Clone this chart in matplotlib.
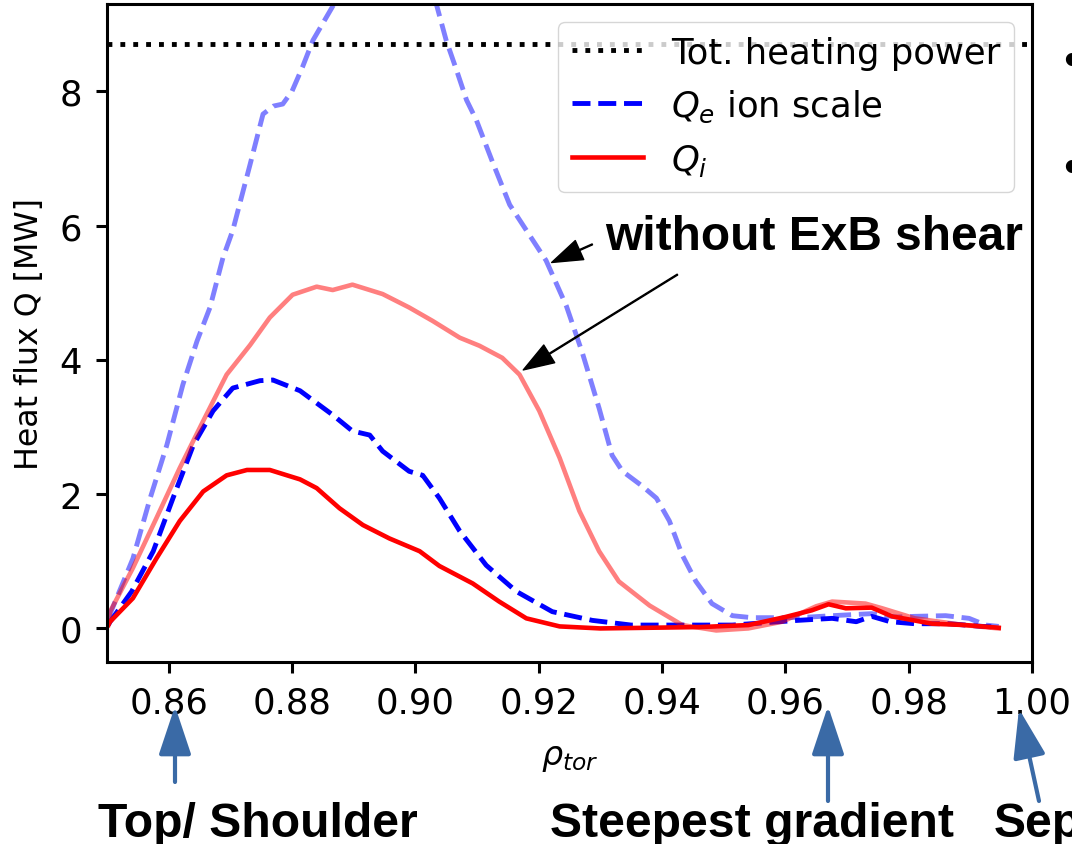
import matplotlib
matplotlib.use('Agg')
import matplotlib.pyplot as plt
from matplotlib.patches import FancyArrowPatch

# ── data ──
tot_power = 8.7

x_qe_noshear = [0.8502, 0.852, 0.8542, 0.857, 0.8597, 0.8623, 0.8646, 0.8667, 0.8688, 0.8704,
                0.8732, 0.8753, 0.8770, 0.8785, 0.880, 0.8817, 0.8834, 0.8872, 0.890, 0.893,
                0.896, 0.899, 0.9015, 0.9034, 0.905, 0.9067, 0.9083, 0.9099, 0.9125, 0.9153,
                0.918, 0.9212, 0.9245, 0.9271, 0.9298, 0.9319, 0.9336, 0.9368, 0.9391, 0.9412,
                0.9433, 0.9455, 0.9481, 0.9514, 0.9546, 0.960, 0.964, 0.9676, 0.974, 0.978,
                0.981, 0.986, 0.9898, 0.9925, 0.9946]
y_qe_noshear = [0.15, 0.55, 1.04, 1.94, 2.73, 3.63, 4.28, 4.78, 5.52, 5.93,
                6.91, 7.66, 7.78, 7.81, 8.0, 8.36, 8.76, 9.36, 9.9, 10.4,
                10.6, 10.4, 9.8, 9.3, 8.76, 8.31, 7.87, 7.57, 6.95, 6.31,
                5.93, 5.48, 4.80, 4.10, 3.28, 2.58, 2.34, 2.12, 1.94, 1.60,
                1.09, 0.70, 0.37, 0.19, 0.16, 0.16, 0.17, 0.19, 0.22, 0.17,
                0.18, 0.19, 0.15, 0.05, 0.03]

x_qi_noshear = [0.8502, 0.8505, 0.8542, 0.858, 0.8618, 0.8656, 0.8694, 0.8732, 0.8764, 0.8801,
                0.884, 0.8866, 0.8898, 0.8947, 0.899, 0.9028, 0.9072, 0.9104, 0.9141, 0.9169,
                0.9201, 0.9234, 0.9266, 0.9298, 0.933, 0.938, 0.9433, 0.9488, 0.954, 0.9595,
                0.965, 0.9676, 0.973, 0.9757, 0.981, 0.989, 0.9946]
y_qi_noshear = [0.05, 0.25, 0.90, 1.64, 2.39, 3.09, 3.78, 4.22, 4.63, 4.97,
                5.09, 5.04, 5.12, 4.98, 4.78, 4.58, 4.33, 4.21, 4.03, 3.78,
                3.24, 2.54, 1.75, 1.15, 0.70, 0.34, 0.05, -0.03, 0.0, 0.10,
                0.33, 0.40, 0.37, 0.30, 0.15, 0.05, 0.0]

x_qe = [0.8502, 0.8505, 0.854, 0.8575, 0.8607, 0.864, 0.8672, 0.8704, 0.8748, 0.8769,
        0.8813, 0.8866, 0.8898, 0.8926, 0.8947, 0.899, 0.9012, 0.9039, 0.9072, 0.9115,
        0.9164, 0.9222, 0.9287, 0.935, 0.9514, 0.962, 0.9676, 0.9715, 0.974, 0.977,
        0.981, 0.9865, 0.992, 0.9946]
y_qe = [0.05, 0.10, 0.55, 1.15, 1.94, 2.73, 3.24, 3.58, 3.69, 3.70,
        3.54, 3.18, 2.94, 2.88, 2.64, 2.34, 2.28, 1.94, 1.45, 0.94,
        0.55, 0.25, 0.12, 0.05, 0.05, 0.12, 0.15, 0.10, 0.18, 0.10,
        0.07, 0.07, 0.03, 0.02]

x_qi = [0.8502, 0.8505, 0.8542, 0.858, 0.8618, 0.8656, 0.8694, 0.8727, 0.8764, 0.8813,
        0.884, 0.8877, 0.8915, 0.8958, 0.9007, 0.9039, 0.9093, 0.9136, 0.918, 0.9234,
        0.930, 0.946, 0.954, 0.960, 0.9643, 0.967, 0.9698, 0.974, 0.9773, 0.9838,
        0.9892, 0.9946]
y_qi = [0.05, 0.10, 0.45, 1.04, 1.60, 2.04, 2.28, 2.36, 2.36, 2.22,
        2.09, 1.79, 1.54, 1.34, 1.15, 0.93, 0.67, 0.40, 0.15, 0.03,
        0.0, 0.02, 0.05, 0.17, 0.27, 0.36, 0.30, 0.31, 0.18, 0.07,
        0.05, 0.01]

x_ticks = [0.86, 0.88, 0.90, 0.92, 0.94, 0.96, 0.98, 1.00]
y_ticks = [0, 2, 4, 6, 8]

W, H = 1072, 845
ARROW_BLUE = '#3A6AA6'
SLIDE_FONT = ['Liberation Sans', 'DejaVu Sans']


def px(x, y):
    # image pixel (top-left origin) -> figure fraction
    return x / W, 1 - y / H


plt.rcParams.update({'font.family': ['DejaVu Sans'], 'font.size': 24})

fig = plt.figure(figsize=(W / 100, H / 100), dpi=100, facecolor='white')
ax = fig.add_axes([107 / W, 1 - 663 / H, (1032 - 107) / W, (663 - 5) / H])

ax.axhline(tot_power, color='black', ls=':', lw=3.5, label='Tot. heating power')
ax.plot(x_qe, y_qe, color='blue', ls='--', lw=3.5, label='$Q_e$ ion scale')
ax.plot(x_qe_noshear, y_qe_noshear, color='blue', ls='--', lw=3.5, alpha=0.5)
ax.plot(x_qi_noshear, y_qi_noshear, color='red', lw=3.3, alpha=0.5)
ax.plot(x_qi, y_qi, color='red', lw=3.3, label='$Q_i$')

ax.set_xlim(0.85, 1.0)
ax.set_ylim(-0.5, 9.3)
ax.set_xticks(x_ticks)
ax.set_xticklabels([f'{t:.2f}' for t in x_ticks])
ax.set_yticks(y_ticks)
ax.tick_params(labelsize=25.5, length=8, width=2.2)
ax.tick_params(axis='x', pad=9)
ax.tick_params(axis='y', pad=10)
for sp in ax.spines.values():
    sp.set_linewidth(2.2)
ax.set_ylabel('Heat flux Q [MW]', fontsize=22.8, labelpad=10)
ax.set_xlabel(r'$\rho_{tor}$', fontsize=24, labelpad=15)

ax.legend(loc='upper right', fontsize=25.5)

# "without ExB shear" annotation arrows
arw = dict(facecolor='black', edgecolor='black', width=0.7, headwidth=15,
           headlength=22, shrink=0)
ax.annotate('', xy=(0.9221, 5.45), xytext=(0.9287, 5.72), arrowprops=arw)
ax.annotate('', xy=(0.9175, 3.85), xytext=(0.9425, 5.27), arrowprops=arw)
fig.text(*px(605, 238), 'without ExB shear', fontsize=34.5, fontweight='bold',
         family=SLIDE_FONT, ha='left', va='center')

# slide labels below the axis
for label, xpos in [('Top/ Shoulder', 98), ('Steepest gradient', 550), ('Separatrix', 994)]:
    fig.text(*px(xpos, 837), label, fontsize=34.7, fontweight='bold',
             family=SLIDE_FONT, ha='left', va='baseline')

for tail, tip in [((175, 783), (175, 707)), ((828, 802), (828, 707)), ((1039, 802), (1019, 710))]:
    fig.add_artist(FancyArrowPatch(px(*tail), px(*tip), transform=fig.transFigure,
                                   arrowstyle='-|>,head_length=1.5,head_width=0.5',
                                   mutation_scale=20, color=ARROW_BLUE, lw=3,
                                   shrinkA=0, shrinkB=0))

# bullets of the slide text cut at the right edge
for yb in [63, 170]:
    fig.text(*px(1063, yb), '\u2022', fontsize=34, family=SLIDE_FONT,
             ha='left', va='center')

fig.savefig('out.png', dpi=100, facecolor='white')
